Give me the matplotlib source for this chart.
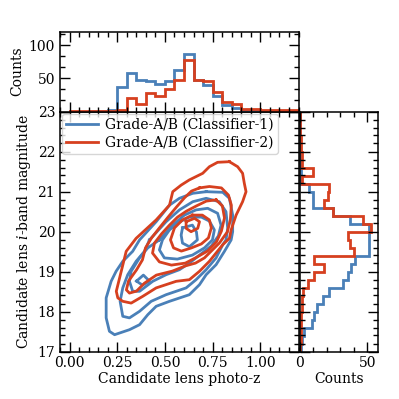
import numpy as np
import matplotlib
matplotlib.use('Agg')
import matplotlib.pyplot as plt
from matplotlib.ticker import MultipleLocator, FixedLocator, AutoMinorLocator, FormatStrFormatter
from matplotlib.lines import Line2D

plt.rcParams['font.family'] = ['DejaVu Serif']
plt.rcParams['mathtext.fontset'] = 'dejavuserif'
plt.rcParams['font.size'] = 10

labels = ['Grade-A/B (Classifier-1)', 'Grade-A/B (Classifier-2)']
colors = ['#4a80b8', '#d6401f']

# photo-z histogram (top panel)
z_edges = [0.00, 0.05, 0.10, 0.15, 0.20, 0.25, 0.30, 0.35, 0.40, 0.45, 0.50, 0.55,
           0.60, 0.65, 0.70, 0.75, 0.80, 0.85, 0.90, 0.95, 1.00, 1.05, 1.10, 1.15, 1.20]
z_counts_1 = [0, 0, 1, 1, 3, 37, 58, 47, 46, 42, 46, 62, 86, 47, 40, 23, 10, 6, 3, 2, 1, 1, 0, 0]
z_counts_2 = [1, 1, 1, 1, 1, 3, 20, 12, 28, 24, 34, 47, 77, 47, 46, 29, 14, 11, 4, 4, 3, 3, 3, 2]

# magnitude histogram (right panel)
m_edges = [17.0, 17.2, 17.4, 17.6, 17.8, 18.0, 18.2, 18.4, 18.6, 18.8, 19.0, 19.2, 19.4, 19.6,
           19.8, 20.0, 20.2, 20.4, 20.6, 20.8, 21.0, 21.2, 21.4, 21.6, 21.8, 22.0, 22.2, 22.4,
           22.6, 22.8, 23.0]
m_counts_1 = [1, 2, 3, 9, 11, 13, 17, 22, 32, 36, 38, 41, 51, 51, 51, 51, 37, 25, 10, 10, 7,
              1, 1, 1, 0, 0, 0, 0, 0, 0]
m_counts_2 = [0, 1, 1, 1, 1, 1.5, 2, 2.5, 6, 10.5, 18, 10.5, 40, 37, 36, 53, 47, 25, 18, 21, 22,
              2, 10, 2, 1.5, 1, 1, 0.5, 0, 0]

# density contours (photo-z, magnitude)
contours_1 = [
    ([0.716, 0.646, 0.576, 0.524, 0.454, 0.367, 0.331, 0.279, 0.244, 0.218, 0.192, 0.192, 0.209,
      0.236, 0.314, 0.367, 0.410, 0.454, 0.524, 0.628, 0.681, 0.716, 0.768, 0.812, 0.847, 0.855,
      0.855, 0.838, 0.803],
     [20.995, 20.955, 20.83, 20.66, 20.245, 19.79, 19.505, 19.255, 19.005, 18.755, 18.34, 17.84,
      17.505, 17.42, 17.545, 17.67, 17.92, 18.13, 18.255, 18.42, 18.67, 18.92, 19.17, 19.505,
      19.79, 19.995, 20.41, 20.83, 20.98]),
    ([0.419, 0.506, 0.576, 0.646, 0.716, 0.785, 0.820, 0.829, 0.820, 0.803, 0.768, 0.716, 0.663,
      0.611, 0.506, 0.428, 0.367, 0.314, 0.279, 0.265, 0.279, 0.305, 0.349, 0.393],
     [19.79, 20.245, 20.54, 20.745, 20.83, 20.745, 20.495, 20.08, 19.79, 19.67, 19.34, 19.045,
      18.795, 18.59, 18.42, 18.255, 18.005, 17.84, 17.88, 18.255, 18.59, 18.92, 19.255, 19.505]),
    ([0.471, 0.541, 0.602, 0.663, 0.724, 0.776, 0.794, 0.780, 0.743, 0.681, 0.628, 0.576, 0.506,
      0.436, 0.367, 0.331, 0.314, 0.323, 0.367, 0.410],
     [19.79, 20.16, 20.41, 20.54, 20.58, 20.455, 20.16, 19.89, 19.64, 19.41, 19.21, 19.045, 18.92,
      18.755, 18.505, 18.505, 18.755, 19.005, 19.34, 19.59]),
    ([0.576, 0.628, 0.691, 0.733, 0.759, 0.749, 0.707, 0.644, 0.565, 0.497, 0.471, 0.487, 0.524],
     [20.24, 20.36, 20.36, 20.26, 20.04, 19.79, 19.59, 19.41, 19.31, 19.34, 19.54, 19.79, 20.04]),
    ([0.351, 0.387, 0.419, 0.382],
     [18.76, 18.91, 18.76, 18.66]),
    ([0.592, 0.644, 0.665, 0.670, 0.628, 0.592, 0.585],
     [20.09, 20.16, 19.99, 19.79, 19.62, 19.71, 19.91]),
]
contours_2 = [
    ([0.838, 0.776, 0.733, 0.698, 0.628, 0.585, 0.541, 0.524, 0.454, 0.349, 0.297, 0.271, 0.245,
      0.253, 0.279, 0.323, 0.384, 0.454, 0.559, 0.628, 0.681, 0.733, 0.803, 0.838, 0.847, 0.873,
      0.907, 0.925, 0.916, 0.907, 0.881],
     [21.745, 21.73, 21.62, 21.455, 21.29, 21.16, 20.995, 20.66, 20.29, 19.83, 19.505, 19.005,
      18.505, 18.34, 18.255, 18.21, 18.38, 18.59, 18.755, 18.795, 19.005, 19.255, 19.67, 19.83,
      20.04, 20.41, 20.745, 20.995, 21.205, 21.455, 21.62]),
    ([0.681, 0.733, 0.796, 0.833, 0.848, 0.843, 0.827, 0.785, 0.749, 0.707, 0.660, 0.607, 0.539,
      0.455, 0.393, 0.351, 0.314, 0.298, 0.309, 0.351, 0.382, 0.398, 0.430, 0.471, 0.513, 0.560,
      0.602, 0.639],
     [21.09, 21.125, 21.09, 20.91, 20.66, 20.29, 19.99, 19.71, 19.54, 19.34, 19.21, 19.14, 19.01,
      18.91, 18.71, 18.51, 18.46, 18.54, 18.76, 19.04, 19.29, 19.59, 19.84, 20.09, 20.34, 20.61,
      20.84, 21.01]),
    ([0.768, 0.801, 0.812, 0.796, 0.770, 0.723, 0.660, 0.607, 0.534, 0.471, 0.435, 0.445, 0.482,
      0.524, 0.566, 0.613, 0.665, 0.717],
     [20.79, 20.64, 20.34, 20.01, 19.74, 19.51, 19.34, 19.21, 19.16, 19.24, 19.46, 19.71, 19.94,
      20.16, 20.36, 20.51, 20.64, 20.76]),
    ([0.644, 0.696, 0.733, 0.743, 0.728, 0.691, 0.639, 0.586, 0.545, 0.529, 0.550, 0.592],
     [20.41, 20.41, 20.29, 20.09, 19.84, 19.69, 19.59, 19.51, 19.59, 19.79, 20.09, 20.29]),
    ([0.611, 0.655, 0.681, 0.672, 0.637, 0.611],
     [20.245, 20.33, 20.245, 20.08, 19.995, 20.08]),
]

fig = plt.figure(figsize=(3.99, 3.99), dpi=100)
W = H = 399.0
def rect(x0, y0, x1, y1):
    return [x0 / W, 1 - y1 / H, (x1 - x0) / W, (y1 - y0) / H]

ax = fig.add_axes(rect(60, 111.5, 298.5, 351.5))
axt = fig.add_axes(rect(60, 31.7, 298.5, 111.5))
axr = fig.add_axes(rect(299.5, 111.5, 378, 351.5))

lw = 2.0
for (zs, ms) in contours_1:
    ax.plot(list(zs) + [zs[0]], list(ms) + [ms[0]], color=colors[0], lw=lw)
for (zs, ms) in contours_2:
    ax.plot(list(zs) + [zs[0]], list(ms) + [ms[0]], color=colors[1], lw=lw)
handles = [Line2D([], [], color=c, lw=lw) for c in colors]
ax.legend(handles, labels, loc='upper left', borderaxespad=0.15, handlelength=2.3,
          fontsize=10, edgecolor='0.8', handletextpad=0.5, labelspacing=0.3,
          borderpad=0.3)

ax.set_xlim(-0.05, 1.2)
ax.set_ylim(17, 23)
ax.xaxis.set_major_locator(MultipleLocator(0.25))
ax.xaxis.set_minor_locator(MultipleLocator(0.05))
ax.yaxis.set_major_locator(MultipleLocator(1))
ax.yaxis.set_minor_locator(MultipleLocator(0.2))
ax.xaxis.set_major_formatter(FormatStrFormatter('%.2f'))
ax.set_xlabel('Candidate lens photo-z', labelpad=1)
ax.set_ylabel('Candidate lens $i$-band magnitude', labelpad=3)

axt.stairs(z_counts_1, z_edges, color=colors[0], lw=lw)
axt.stairs(z_counts_2, z_edges, color=colors[1], lw=lw)
axt.set_xlim(-0.05, 1.2)
axt.set_ylim(0, 120)
axt.xaxis.set_major_locator(MultipleLocator(0.25))
axt.xaxis.set_minor_locator(MultipleLocator(0.05))
axt.yaxis.set_major_locator(FixedLocator([0, 50, 100]))
axt.yaxis.set_minor_locator(AutoMinorLocator(3))
axt.set_yticklabels(['', '50', '100'])
axt.tick_params(labelbottom=False)
axt.set_ylabel('Counts', labelpad=3)

axr.stairs(m_counts_1, m_edges, color=colors[0], lw=lw, orientation='horizontal')
axr.stairs(m_counts_2, m_edges, color=colors[1], lw=lw, orientation='horizontal')
axr.set_ylim(17, 23)
axr.set_xlim(0, 58)
axr.xaxis.set_major_locator(MultipleLocator(50))
axr.xaxis.set_minor_locator(MultipleLocator(10))
axr.yaxis.set_major_locator(MultipleLocator(1))
axr.yaxis.set_minor_locator(MultipleLocator(0.2))
axr.tick_params(labelleft=False)
axr.set_xlabel('Counts', labelpad=1)

for a in (ax, axt, axr):
    a.tick_params(which='both', direction='in', top=True, right=True, width=1.0)
    a.tick_params(which='major', length=7)
    a.tick_params(which='minor', length=3.5)
    for s in a.spines.values():
        s.set_linewidth(1.1)

fig.savefig('out.png', dpi=100)
